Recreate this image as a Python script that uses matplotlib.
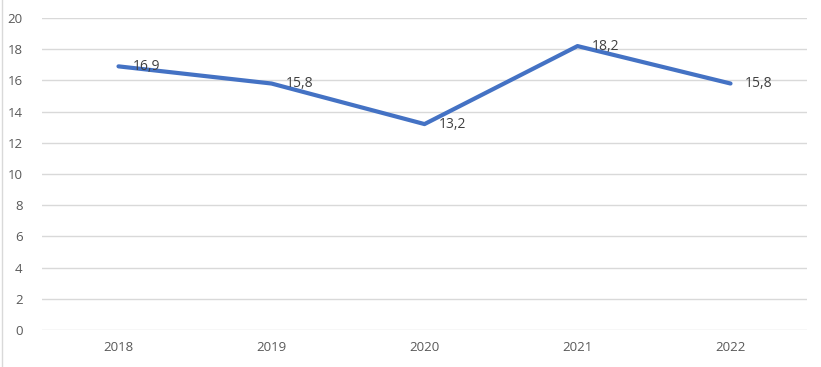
import matplotlib
matplotlib.use("Agg")
import matplotlib.pyplot as plt
from matplotlib.lines import Line2D

years = ["2018", "2019", "2020", "2021", "2022"]
values = [16.9, 15.8, 13.2, 18.2, 15.8]
yticks = [0, 2, 4, 6, 8, 10, 12, 14, 16, 18, 20]

plt.rcParams['font.family'] = ['Open Sans', 'DejaVu Sans']

fig = plt.figure(figsize=(8.21, 3.67), dpi=100)
ax = fig.add_axes([42/821, 1-330/367, (807-42)/821, (330-18)/367])

x = list(range(len(years)))
ax.plot(x, values, color="#4472C4", lw=3, solid_capstyle="round", zorder=3)
for xi, v in zip(x, values):
    ax.annotate(f"{v:.1f}".replace(".", ","), (xi, v), xytext=(14, 0),
                textcoords="offset pixels",
                ha="left", va="center", fontsize=10, color="#404040", zorder=4)

ax.set_xlim(-0.5, len(years) - 0.5)
ax.set_ylim(0, 20)
ax.set_yticks(yticks)
ax.set_yticklabels([str(t) for t in yticks])
ax.set_xticks(x)
ax.set_xticklabels(years)
ax.grid(axis="y", color="#D9D9D9", lw=1)
ax.set_axisbelow(True)
for s in ax.spines.values():
    s.set_visible(False)
ax.tick_params(length=0, colors="#595959", labelsize=9.5, pad=8)
ax.tick_params(axis="y", pad=14)

fig.add_artist(Line2D([2/821, 2/821], [0, 1], transform=fig.transFigure, color="#D9D9D9", lw=1))

fig.savefig("out.png", dpi=100)
